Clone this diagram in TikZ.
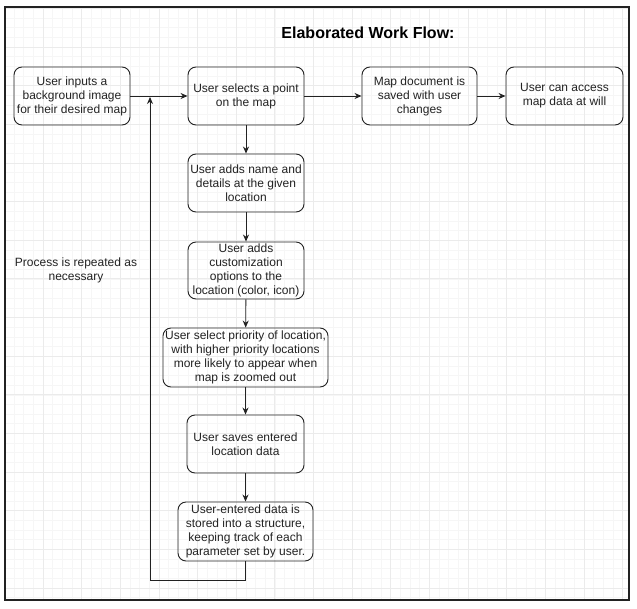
\documentclass[tikz,border=0pt]{standalone}
\usepackage{fontspec}
\setmainfont{Liberation Sans}
\usetikzlibrary{arrows.meta}

\definecolor{gridminor}{HTML}{F6F6F6}
\definecolor{gridmajor}{HTML}{EBEBEB}
\definecolor{inkgray}{HTML}{222222}

\tikzset{
  stepbox/.style={draw=inkgray, rounded corners=8pt, line width=0.9pt, align=center,
    minimum width=116pt, minimum height=58pt, inner sep=1pt, text=inkgray,
    font=\fontsize{12}{14}\selectfont},
  flow/.style={draw=inkgray, line width=0.9pt, -{Stealth[length=7pt,width=6pt]}},
}

\begin{document}
\begin{tikzpicture}[x=1pt, y=-1pt]
  \useasboundingbox (0,0) rectangle (637,608);

  % Grid
  \begin{scope}
    \clip (5,7) rectangle (629,600);
    \foreach \i in {0,...,66} {
      \draw[gridminor, line width=0.6pt] ({4.36+\i*9.66},7) -- ++(0,593);
      \draw[gridminor, line width=0.6pt] (5,{8.4+\i*9.66}) -- ++(624,0);
    }
    \foreach \i in {0,...,16} {
      \draw[gridmajor, line width=0.8pt] ({4.36+\i*38.64},7) -- ++(0,593);
      \draw[gridmajor, line width=0.8pt] (5,{8.4+\i*38.64}) -- ++(624,0);
    }
  \end{scope}

  % Frame
  \draw[inkgray, line width=1.3pt] (5,7) rectangle (629,600);

  % Title
  \node (title) at (368,33) {\fontsize{16}{19}\selectfont\bfseries Elaborated Work Flow:};

  % Top row
  \node[stepbox] (input) at (72,96) {User inputs a\\background image\\for their desired map};
  \node[stepbox] (select) at (246,96) {User selects a point\\on the map};
  \node[stepbox, minimum width=115pt] (saved) at (419.5,96) {Map document is\\saved with user\\changes};
  \node[stepbox, minimum width=117pt] (access) at (564.5,96) {User can access\\map data at will};

  % Column
  \node[stepbox] (details) at (246,183) {User adds name and\\details at the given\\location};
  \node[stepbox, minimum height=57pt] (custom) at (246,270.5) {User adds\\customization\\options to the\\location (color, icon)};
  \node[stepbox, minimum width=165pt, minimum height=59pt] (priority) at (245.5,357.5) {User select priority of location,\\with higher priority locations\\more likely to appear when\\map is zoomed out};
  \node[stepbox, minimum width=117pt] (savesdata) at (245.5,444) {User saves entered\\location data};
  \node[stepbox, minimum width=135pt, minimum height=59pt] (stored) at (245.5,531.5) {User-entered data is\\stored into a structure,\\keeping track of each\\parameter set by user.};

  % Side note
  \node[align=center, text=inkgray, font=\fontsize{12}{14}\selectfont] (note) at (76,270) {Process is repeated as\\necessary};

  % Arrows
  \draw[flow] (input) -- (select);
  \draw[flow] (select) -- (saved);
  \draw[flow] (saved) -- (access);
  \draw[flow] (select) -- (details);
  \draw[flow] (details) -- (custom);
  \draw[flow] (custom) -- (priority);
  \draw[flow] (priority) -- (savesdata);
  \draw[flow] (savesdata) -- (stored);

  % Loop back
  \coordinate (loopdown) at (stored.south |- 0,580);
  \coordinate (loopleft) at (150,580);
  \coordinate (loopend) at (150,97);
  \draw[flow] (stored.south) -- (loopdown) -- (loopleft) -- (loopend);
\end{tikzpicture}
\end{document}
